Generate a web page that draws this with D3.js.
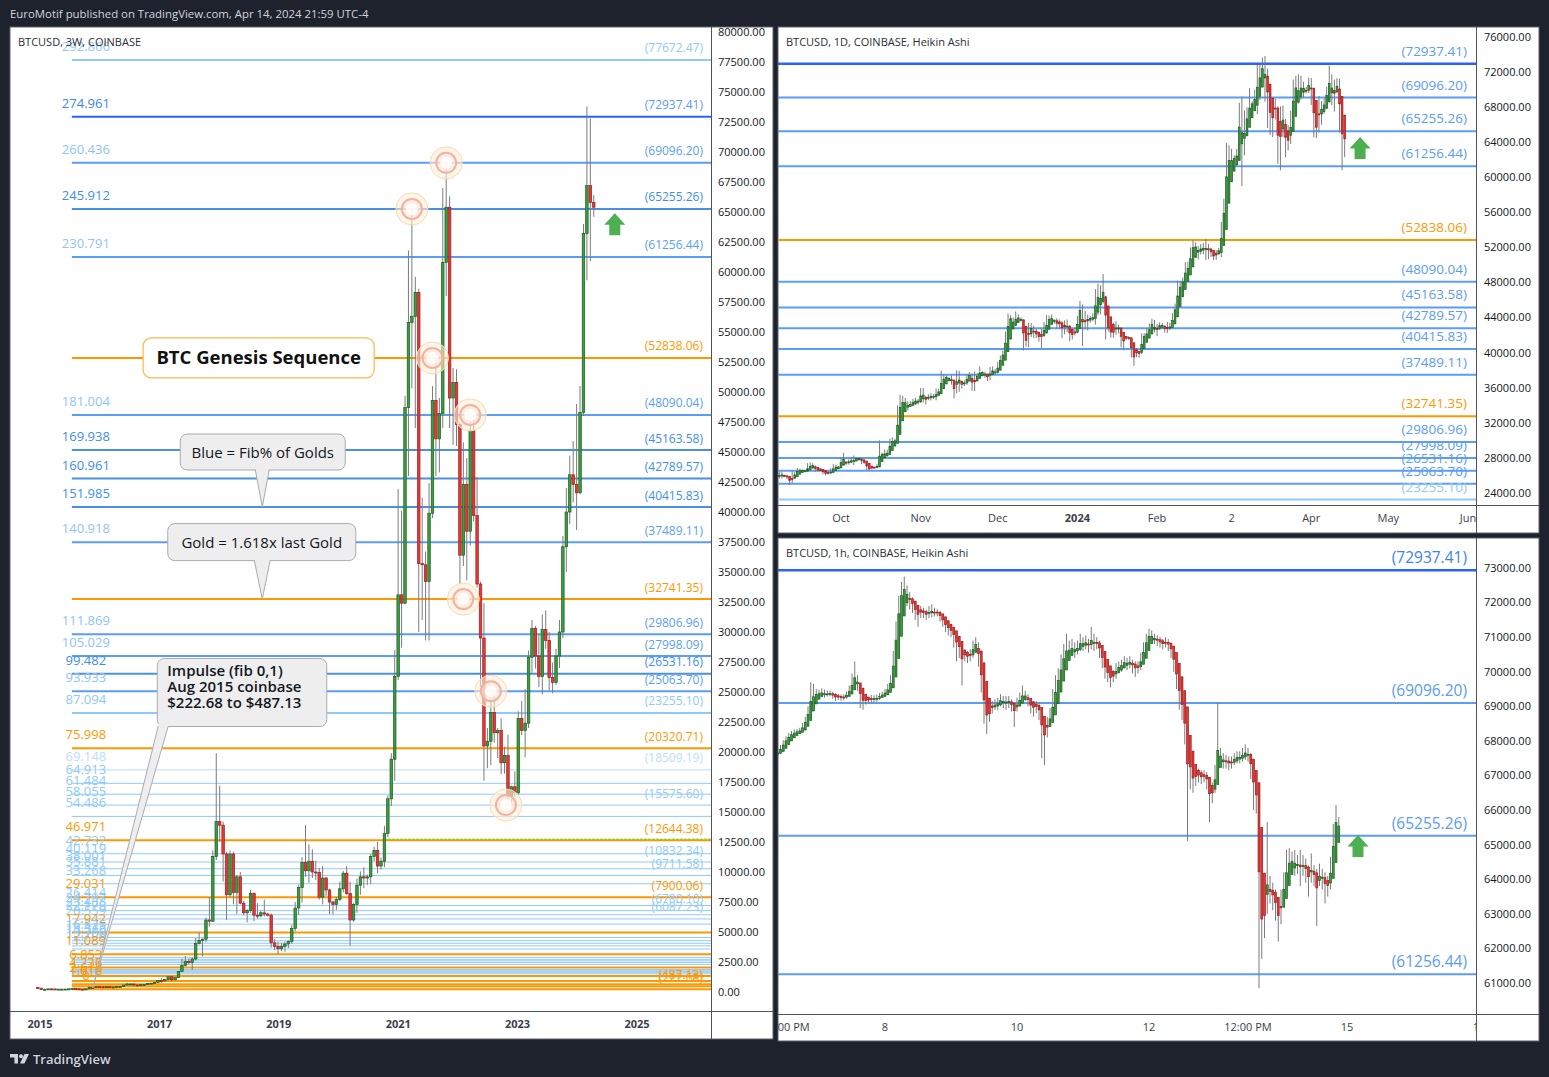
<!DOCTYPE html>
<html><head><meta charset="utf-8">
<script src="https://cdn.jsdelivr.net/npm/d3@7/dist/d3.min.js"></script>
<style>
html,body{margin:0;padding:0;background:#1e222d;}
svg{display:block;font-family:"Open Sans","Noto Sans",sans-serif;}
</style></head><body>
<svg id="chart" width="1549" height="1077"></svg>
<script>
// ================= DATA =================
// --- Left panel: BTCUSD 3W (Coinbase), bars every 21 days from this start date
const w3FirstDate = "2014-12-08";
const w3FirstOpen = 375;
const w3Close = [320,210,230,260,255,235,240,240,245,260,290,265,240,235,265,380,360,440,430,380,440,415,420,450,455,580,665,665,590,575,610,615,700,740,790,970,920,1030,1270,1020,1200,1720,2200,2550,2450,2750,4050,4300,4400,6000,5900,
11300,14200,13900,11500,8100,11500,8300,9600,7400,6600,6800,8200,6400,6350,6600,6500,6400,4100,3800,3600,3800,4000,4200,5300,7000,8700,10800,10100,10900,10000,9950,7900,9500,8500,7500,7300,7700,8600,9900,8200,6000,7300,8900,9600,9500,9600,11300,11800,10500,10900,13200,16100,19400,26300,33100,32400,48700,55800,56300,58300,35700,35600,34200,39900,49300,46100,48200,60800,65400,49500,50800,47300,36400,42300,38400,46800,39700,34000,29500,20500,20900,23300,21600,21800,19100,19700,16300,17100,16600,22800,21800,22400,27900,30300,28000,26300,30200,29300,26200,25800,28000,30000,37100,40000,43100,42300,41600,48300,63200,67200,65800,65400];
const w3High = [375,330,265,300,300,260,245,245,255,270,315,300,265,245,270,500,390,470,470,460,445,440,425,460,465,580,775,690,680,600,615,620,715,750,795,980,1150,1040,1290,1340,1230,1740,2790,3000,2800,2900,4490,4980,4450,6200,7900,
11800,19900,17200,14200,11700,11800,11700,9750,9990,7600,6900,8500,8300,7400,6800,7700,6600,6550,4400,4200,4100,4200,4300,5600,7500,8950,11250,13900,12300,11900,10950,10350,10500,9600,8600,7600,7900,9200,10100,10500,9200,7400,9450,10050,10400,9800,11500,12100,12500,11200,13850,16400,19900,28500,41900,40100,49700,61800,65400,59600,58600,41200,36700,42400,50500,52900,49500,67000,69100,66300,52000,51900,47500,45800,44500,48200,47700,42900,34200,32400,22000,24650,25200,22000,22800,20450,21450,17200,18400,23400,24250,25250,28450,31000,30500,29800,31450,31800,30000,27450,28600,31000,38000,42000,44700,45900,49000,50500,64000,73800,72800,66400];
const w3Low = [300,170,200,215,245,225,215,230,220,240,255,255,200,225,235,260,310,350,410,360,365,400,410,415,440,435,565,600,480,560,570,595,610,680,725,770,750,880,980,890,1000,1180,1700,2150,2300,1830,2630,3950,2980,4150,5450,
5850,11000,12500,9200,6000,7900,7300,6500,7300,6400,5800,6600,5900,6100,6200,6300,6300,3700,3500,3150,3400,3350,3650,4000,5050,6400,7450,9600,9100,9500,9350,7700,7300,8000,6500,6450,6850,7600,8300,8100,3850,5850,6600,8100,8650,8900,9000,10900,9900,10200,10400,12900,15500,17600,26000,28700,32300,43000,50300,47000,30000,31000,29300,29300,39500,43000,43300,47000,58000,47000,45600,45500,34000,35500,34300,37200,39200,33700,25400,17600,18650,18900,20800,19500,18150,18200,15600,15480,16260,16450,21400,19550,22000,26600,26950,25400,24800,28600,25150,24900,25600,27000,29500,35000,39000,40800,38500,41500,48000,59300,60900,64600];

// --- Top right: BTCUSD 1D (Coinbase), daily bars from this date, drawn as Heikin Ashi
const dailyFirstDate = "2023-09-07";
const dailyFirstOpen = 25750;
const dailyClose = [26250,25900,25900,25840,25160,25840,26230,26530,26610,26570,26530,26760,27210,27130,26570,26580,26580,26250,26300,26220,26370,27020,26910,26970,
27990,27500,27430,27780,27410,27940,27960,27950,27590,27390,26880,26760,26860,26860,27160,28520,28410,28330,28720,29680,29920,29990,33070,33920,34500,34160,33910,34080,34530,34500,34650,
35420,34940,34730,35080,35050,35040,35420,35650,36700,37320,37140,37070,36500,35540,37880,36170,36600,36580,37390,37480,35800,37430,37310,37740,37790,37460,37240,37820,37850,37720,
38690,39460,39970,41990,44080,43770,43290,44170,43720,43790,41250,41480,42880,43020,41940,42260,41370,42650,42270,43650,43870,43990,43740,43020,43600,42520,43440,42580,42070,42140,42280,
44180,44950,42830,44180,44180,43960,43950,46970,46120,46650,46370,42800,42850,41740,42500,43140,42740,41280,41620,41690,41580,39520,39870,40080,39920,41810,42110,42030,43300,42940,42580,
43080,43190,43000,42580,42660,43090,44340,45290,47130,47770,48300,49950,49730,51820,51940,52130,51640,52130,51780,52280,51850,51310,50730,51570,51730,54490,57080,62500,61170,
62430,62030,63130,68330,63800,66100,66930,68300,68500,68970,72100,71470,73080,71400,69480,65300,68390,67610,61950,67850,65500,63800,64090,67220,70000,69900,69470,70780,69880,69650,71300,
69700,65490,65960,68490,67830,68900,69360,71600,69140,70590,70060,67150,63950,65450];
const dailyHigh = [26420,26430,25950,25980,25890,26540,26390,26860,26790,26670,26630,27410,27490,27390,27160,26740,26630,26720,26410,26390,26830,27300,27230,27090,
28050,28580,27670,27830,28130,28280,28000,28100,27990,27730,27480,26820,27100,26960,27290,30000,28600,28970,28920,30210,30350,30200,33980,35200,35100,34820,34470,34480,34750,34860,34730,
35970,35980,34940,35270,35390,35280,35920,35900,37970,37530,37410,37240,37430,36760,37990,37940,36840,36850,37550,37800,37640,37880,37650,38430,37880,37830,37600,38380,38430,38160,
38970,39690,40230,42420,44480,44290,44050,44700,44370,44040,43790,42100,43420,43400,43090,42730,42430,42760,43490,44280,44240,44370,43800,43940,43790,43620,43680,43790,43130,42600,42890,
44200,45900,45500,44770,44340,44200,44480,47250,47890,47690,48970,46500,43250,43080,43400,43580,43200,42870,42200,41880,41860,41710,40160,40540,40140,42200,42200,42830,43320,43870,43740,
43260,43480,43380,43120,43500,43420,44500,45600,48200,48170,48580,50330,50370,52000,52820,52580,52180,52380,52490,52980,52400,51980,51540,51700,51950,54900,57550,63910,63660,
63250,62480,63230,68500,69200,67640,67990,70170,68670,70000,72800,72940,73650,73830,72400,70010,68900,68950,68100,68100,68180,66660,65970,67600,71150,71560,71740,71580,70900,70320,71370,
71330,69700,66900,69270,68700,69000,70300,72740,71750,71150,71300,71230,67950,65850];
const dailyLow = [25640,25650,25800,25600,24900,25140,25770,26130,26230,26470,26400,26400,26680,26890,26390,26520,26510,26140,25990,26100,26150,26330,26670,26890,
26950,27320,27170,27230,27370,27170,27860,27700,27280,27300,26580,26550,26700,26820,26820,27130,28100,28160,28170,28630,29490,29690,29890,32850,33700,33720,33410,33880,33950,34050,34080,
34280,34330,34100,34580,34540,34730,34560,35200,35560,36370,36780,36740,36360,34780,35380,35550,35910,36200,36340,36860,35650,35630,36880,37260,37600,37160,36740,36880,37600,37510,
37620,38650,39270,39970,41420,43350,42850,43080,43580,43580,40250,40700,40620,41790,41690,41680,41260,40540,41800,42210,43420,43300,43310,42770,42750,41650,42100,42330,41310,41520,41970,
42200,44220,40750,42640,42530,43400,43570,43200,44300,44380,45600,41500,42440,41720,41710,42050,42200,40600,40270,41430,41440,39460,38500,39490,39450,39830,41360,41640,41800,42690,42290,
41880,42580,42880,42270,42250,42570,42800,44330,45240,46800,47620,47710,48300,49270,51330,51570,50630,51180,51230,50550,50650,50900,50540,50580,51280,50900,54450,56700,60400,
60800,61650,61340,62920,59000,62500,65620,66160,68040,67990,67200,68830,71330,68620,65630,64800,64560,66600,61550,60800,64550,62310,63060,63800,66390,69300,68400,68870,69050,69560,69630,
68250,64550,64500,65110,66010,67250,68730,69100,68220,67500,69580,65100,60800,62300];

// --- Bottom right: BTCUSD 1h (Coinbase), hours counted from Apr 8 2024 00:00 (UTC-4), drawn as Heikin Ashi
const hourlyFirstHour = -39;
const hourlyFirstOpen = 67600;
const hourlyClose = [67690,67800,67950,68050,68150,68200,68250,68280,68300,68450,
68600,68900,69100,69300,69380,69350,69400,69330,69380,69360,
69300,69250,69280,69230,69270,69350,69450,69600,69850,69600,
69300,69150,69200,69180,69250,69200,69260,69300,69350,69400,
69500,69800,70500,71300,72000,72300,72350,72200,72100,71950,
71750,71700,71750,71700,71650,71750,71700,71750,71700,71600,
71450,71350,71250,71200,71100,70900,70650,70500,70500,70450,
70500,70750,70800,70300,69600,69000,68700,68900,69000,69050,
69100,69200,69100,69200,69100,69050,68950,69100,69200,69300,
69300,69150,69000,69050,69000,68900,68500,68300,68500,68700,
69100,69600,69800,70200,70400,70600,70600,70700,70600,70700,
70850,70800,70850,70750,70900,70800,70850,70600,70300,70100,
69950,69850,69900,70100,70150,70200,70300,70250,70300,70200,
70100,70150,70400,70700,70950,71050,71000,70950,70900,70850,
70800,70850,70800,70600,70200,69800,69300,68900,68300,67600,
67100,66900,67050,67000,66950,67000,66900,66400,66600,67100,
67700,67500,67450,67400,67350,67400,67500,67550,67500,67600,
67650,67600,67200,66800,66200,63500,62500,63200,63500,63700,
63500,63300,62900,63400,63900,64300,64550,64500,64400,64450,
64350,64450,64300,64100,64250,64100,63950,64150,64100,63900,
63800,64500,65400,65700,65450];
const hourlyHigh = [67780,67880,68020,68130,68230,68290,68330,68350,68380,68520,
68700,69000,69700,69650,69500,69480,69520,69480,69460,69450,
69420,69380,69360,69340,69350,69430,69600,69950,70300,69900,
69650,69350,69300,69280,69330,69320,69340,69380,69420,69500,
69650,69900,70600,71450,72200,72600,72750,72500,72300,72150,
72000,71900,71900,71850,71800,71900,71950,71850,71820,71750,
71650,71500,71450,71350,71300,71150,70950,70750,70650,70600,
70650,70900,71000,70850,70350,69650,69100,69000,69150,69200,
69250,69350,69300,69300,69300,69200,69100,69250,69400,69600,
69450,69350,69200,69150,69150,69100,68950,68600,68700,68950,
69500,69900,70100,70500,70800,71100,70900,70950,70850,70900,
71100,71000,71050,70950,71300,71100,71000,70900,70650,70350,
70150,70000,70050,70250,70300,70350,70450,70400,70450,70350,
70300,70300,70550,70850,71100,71250,71200,71100,71050,71000,
70950,71000,70950,70850,70650,70250,69850,69400,68950,68350,
67700,67200,67250,67200,67150,67150,67100,66950,66800,67300,
69100,67800,67650,67600,67550,67550,67650,67700,67700,67800,
67900,67800,67650,67250,66850,66300,63700,63800,65650,64100,
63900,63700,63400,63700,64200,64850,64900,64800,64850,64700,
64850,64700,64600,64400,64750,64400,64300,64450,64300,64200,
64100,64650,65600,66150,65800];
const hourlyLow = [67520,67620,67750,67880,67990,68080,68120,68170,68200,68240,
68400,68550,68850,69050,69200,69250,69280,69250,69280,69290,
69220,69150,69180,69160,69180,69220,69300,69400,69550,69450,
68950,68900,69050,69080,69100,69120,69130,69180,69240,69280,
69350,69450,69750,70400,71200,71900,72100,71900,71800,71700,
71500,71300,71550,71550,71500,71550,71580,71600,71600,71450,
71300,71150,71050,71000,70700,70300,70400,69600,70300,70250,
70300,70400,70600,70150,69400,68500,68200,68550,68800,68900,
68900,69000,68950,68900,68950,68850,68400,68850,69000,69100,
69150,69000,68800,68700,68800,68600,67500,67300,68100,68400,
68600,69000,69500,69700,70100,70300,70400,70450,70400,70500,
70600,70600,70650,70550,70650,70600,70650,70400,70100,69800,
69700,69550,69700,69800,69950,70000,70100,70050,70100,69950,
69850,69950,70050,70300,70600,70850,70850,70800,70750,70700,
70650,70700,70600,70400,70000,69500,68900,68600,67900,65100,
66600,66500,66700,66800,66750,66800,66600,65650,66200,66500,
67000,67250,67200,67200,67150,67200,67300,67350,67350,67400,
67450,67400,66900,66000,65900,60850,61700,62300,63000,63300,
63100,62800,62200,62700,63300,63700,64100,64200,64100,64150,
63800,64100,63900,63500,63900,63800,62650,63800,63700,63300,
63500,63700,64300,65300,65200];

// --- Horizontal levels (fib multiples of the Aug 2015 impulse 222.68 -> 487.13)
const levelFib = ["292.866","274.961","260.436","245.912","230.791","","181.004","169.938","160.961","151.985","140.918","","111.869","105.029","99.482","93.933","87.094","75.998","69.148","64.913","61.484","58.055","54.486","46.971","42.732","40.119","38.001","35.881","33.268","29.031","26.414","24.797","23.488","22.178","20.559","17.942","16.325","15.325","14.516","13.706","12.706","11.089","","","","","","6.853","","","","","","4.236","2.618","1.618","1","0"];
const levelPrice = [77672.47,72937.41,69096.20,65255.26,61256.44,52838.06,48090.04,45163.58,42789.57,40415.83,37489.11,32741.35,29806.96,27998.09,26531.16,25063.70,23255.10,20320.71,18509.19,17388.9,16482.1,15575.60,14631.5,12644.38,11523.2,10832.34,10272.1,9711.58,9020.4,7900.06,7207.9,6780.10,6434.1,6087.23,5659.5,4967.5,4539.8,4275.3,4061.4,3847.2,3582.7,3155.2,2891.0,2727.3,2595.3,2463.0,2299.4,2034.9,1871.5,1770.5,1689.0,1607.3,1506.3,1342.9,915.0,650.6,487.13,222.68];
// tone: G gold, D dark blue, M blue, M2 mid blue, L light blue, P pale blue
const levelTone = ["L","D","M2","M","M2","G","M2","M","M","M","M2","G","M2","M2","M","M2","L","G","P","L","L","L","L","G","L","L","L","L","L","G","L","L","L","L","L","G","L","L","L","L","L","G","L","L","L","L","L","G","L","L","L","L","L","G","G","G","G","G"];
const levelRightShown = [1,1,1,1,1,1,1,1,1,1,1,1,1,1,1,1,1,1,1,0,0,1,0,1,0,1,0,1,0,1,0,1,0,1,0,0,0,0,0,0,0,0,0,0,0,0,0,0,0,0,0,0,0,0,0,0,1,1];
const fibAnchorDate = "2015-07-15";

// --- Tick labels
const leftYearTicks = ["2015","2017","2019","2021","2023","2025"];
const dailyTickDates = ["2023-10-01","2023-11-01","2023-12-01","2024-01-01","2024-02-01","2024-03-01","2024-04-01","2024-05-01","2024-06-01"];
const dailyTickLabels = ["Oct","Nov","Dec","2024","Feb","2","Apr","May","Jun"];
const hourlyTickHours = [-36,0,48,96,132,168,216];
const hourlyTickLabels = ["12:00 PM","8","10","12","12:00 PM","15","17"];

// --- Annotations
const ringBars = [109,119,115,126,124,132,136.4];
const ringPrices = [65255.26,69096.20,52838.06,48090.04,32741.35,25063.70,15575.60];
const dottedStartBar = 101, dottedPrice = 12644.38;
const arrowLeft = {date:"2024-08-18", price:64900};
const arrowTR = {date:"2024-04-20", price:64600};
const arrowBR = {hour:172, price:65280};
const genesisNote = {text:"BTC Genesis Sequence", date:"2018-08-31", price:52838.06};
const pointerNotes = [
  {lines:["Blue = Fib% of Golds"], date:"2018-09-22", price:40415.83},
  {lines:["Gold = 1.618x last Gold"], date:"2018-09-22", price:32741.35},
  {lines:["Impulse (fib 0,1)","Aug 2015 coinbase","$222.68 to $487.13"], date:"2015-11-20", price:333}
];

// ================= RENDER =================
const DAY = 864e5;
const parse = d3.utcParse("%Y-%m-%d");
const svg = d3.select("#chart");
const defs = svg.append("defs");
function clip(id,x,y,w,h){defs.append("clipPath").attr("id",id).append("rect").attr("x",x).attr("y",y).attr("width",w).attr("height",h);}

svg.append("rect").attr("width",1549).attr("height",1077).attr("fill","#1e222d");

const textDark = "#131722";
const pal = {up:"#3d9b41", upB:"#1b5e20", down:"#e53935", downB:"#9f1c1c", wick:"#7b7b7e"};
const toneLine = {G:"#ff9800", D:"#2962ff", M:"#4a90e2", M2:"#5b9cf6", L:"#90caf9", P:"#bbdefb"};
const toneLeft = {G:"#ff9800", D:"#3c86f0", M:"#3d8ef0", M2:"#90c4f6", L:"#90caf9", P:"#bbdefb"};
const toneRight = {G:"#ff9800", D:"#5b9cf6", M:"#3d8ef0", M2:"#5ba0f0", L:"#90caf9", P:"#bbdefb"};

function drawCandles(g, data, x, y, bw){
  const gg = g.append("g");
  gg.selectAll("line").data(data).join("line")
    .attr("x1",d=>x(d.t)).attr("x2",d=>x(d.t))
    .attr("y1",d=>y(d.h)).attr("y2",d=>y(d.l))
    .attr("stroke",pal.wick).attr("stroke-width",1);
  gg.selectAll("rect").data(data).join("rect")
    .attr("x",d=>x(d.t)-bw/2).attr("width",bw)
    .attr("y",d=>Math.min(y(d.o),y(d.c)))
    .attr("height",d=>Math.max(1,Math.abs(y(d.o)-y(d.c))))
    .attr("fill",d=>d.c>=d.o?pal.up:pal.down)
    .attr("stroke",d=>d.c>=d.o?pal.upB:pal.downB).attr("stroke-width",0.7);
}
function heikinAshi(close, high, low, firstOpen, timeOf){
  const out=[]; let pO=0, pC=0;
  close.forEach((c,i)=>{
    const o = i ? close[i-1] : firstOpen;
    const hc = (o+high[i]+low[i]+c)/4;
    const ho = i ? (pO+pC)/2 : (o+c)/2;
    out.push({t:timeOf(i), o:ho, c:hc, h:Math.max(high[i],ho,hc), l:Math.min(low[i],ho,hc)});
    pO=ho; pC=hc;
  });
  return out;
}
function arrowUp(g, x, y, color){
  g.append("path").attr("d",`M${x},${y} L${x+10.5},${y+11.5} L${x+5.5},${y+11.5} L${x+5.5},${y+22} L${x-5.5},${y+22} L${x-5.5},${y+11.5} L${x-10.5},${y+11.5} Z`).attr("fill",color);
}
function panelFrame(x0,y0,x1,y1,pr,pb){
  svg.append("rect").attr("x",x0).attr("y",y0).attr("width",x1-x0).attr("height",y1-y0).attr("fill","#ffffff").attr("stroke","#5d606b").attr("stroke-width",1);
  svg.append("line").attr("x1",pr+0.5).attr("x2",pr+0.5).attr("y1",y0).attr("y2",y1).attr("stroke","#50535e");
  svg.append("line").attr("x1",x0).attr("x2",x1).attr("y1",pb+0.5).attr("y2",pb+0.5).attr("stroke","#50535e");
}

// ---------- header / footer ----------
svg.append("text").attr("x",10).attr("y",18).attr("fill","#d1d4dc").attr("font-size",11.4)
  .text("EuroMotif published on TradingView.com, Apr 14, 2024 21:59 UTC-4");
const logo = svg.append("g").attr("fill","#d1d4dc");
logo.append("path").attr("d","M10,1054 h8 v9.5 h-3.6 v-6 h-4.4 Z");
logo.append("circle").attr("cx",21).attr("cy",1056.2).attr("r",2);
logo.append("path").attr("d","M24.5,1054 h4.5 l-4.6,9.5 h-4.4 Z");
svg.append("text").attr("x",33).attr("y",1064).attr("fill","#d1d4dc").attr("font-size",13).attr("font-weight",600).text("TradingView");

// ================= LEFT PANEL =================
const L = {x0:10,y0:27,x1:773,y1:1039,pr:711,pb:1011};
panelFrame(L.x0,L.y0,L.x1,L.y1,L.pr,L.pb);
clip("clipL",L.x0,L.y0,L.pr-L.x0,L.pb-L.y0);
const xL = d3.scaleUtc().domain([parse("2015-01-01"),parse("2025-01-01")]).range([40,637]);
const yL = d3.scaleLinear().domain([0,80000]).range([992,32]);
const w3Start = parse(w3FirstDate);
const barDate = i => new Date(+w3Start + (i*21+10.5)*DAY);
const w3 = w3Close.map((c,i)=>({t:barDate(i), o:i?w3Close[i-1]:w3FirstOpen, h:w3High[i], l:w3Low[i], c}));
const levels = levelPrice.map((p,i)=>({p, fib:levelFib[i], tone:levelTone[i], right:levelRightShown[i]}));

const gL = svg.append("g").attr("clip-path","url(#clipL)");
const lineX0 = xL(parse(fibAnchorDate));
const lw = d => (d.tone==="G" || d.p>=20000) ? 2 : 1;
gL.append("g").selectAll("line").data(levels).join("line")
  .attr("x1",lineX0).attr("x2",L.pr).attr("y1",d=>yL(d.p)).attr("y2",d=>yL(d.p))
  .attr("stroke",d=>toneLine[d.tone]).attr("stroke-width",lw);
// green dotted
gL.append("line").attr("x1",xL(barDate(dottedStartBar))).attr("x2",L.pr)
  .attr("y1",yL(dottedPrice)-1).attr("y2",yL(dottedPrice)-1)
  .attr("stroke","#64dd17").attr("stroke-width",1.3).attr("stroke-dasharray","2,2");

drawCandles(gL, w3, xL, yL, 2.5);

// rings
const rings = ringBars.map((b,i)=>({x:xL(barDate(b)), y:yL(ringPrices[i])}));
const rg = gL.append("g");
rg.selectAll("circle.o").data(rings).join("circle").attr("class","o").attr("cx",d=>d.x).attr("cy",d=>d.y).attr("r",16)
  .attr("fill","#fff0dd").attr("fill-opacity",0.6).attr("stroke","#fdd9a6").attr("stroke-width",1);
rg.selectAll("circle.m").data(rings).join("circle").attr("class","m").attr("cx",d=>d.x).attr("cy",d=>d.y).attr("r",10)
  .attr("fill","#fce6e0").attr("fill-opacity",0.55).attr("stroke","#f2b39c").attr("stroke-width",2);
rg.selectAll("circle.i").data(rings).join("circle").attr("class","i").attr("cx",d=>d.x).attr("cy",d=>d.y).attr("r",6)
  .attr("fill","#ffffff").attr("fill-opacity",0.8);

// left labels
gL.append("g").selectAll("text").data(levels.filter(d=>d.fib!=="")).join("text")
  .attr("x",lineX0+14).attr("y",d=>yL(d.p)-9).attr("text-anchor","middle")
  .attr("font-size",13).attr("fill",d=>toneLeft[d.tone]).text(d=>d.fib);
// right labels
gL.append("g").selectAll("text").data(levels.filter(d=>d.right)).join("text")
  .attr("x",L.pr-8).attr("y",d=>yL(d.p)-7.5).attr("text-anchor","end")
  .attr("font-size",12).attr("fill",d=>toneRight[d.tone]).text(d=>"("+d.p.toFixed(2)+")");

// Genesis box
{
  const cx = xL(parse(genesisNote.date)), cy = yL(genesisNote.price);
  const w=231,h=40;
  gL.append("rect").attr("x",cx-w/2).attr("y",cy-h/2).attr("width",w).attr("height",h).attr("rx",8)
    .attr("fill","#ffffff").attr("stroke","#ffb74d").attr("stroke-width",1.2);
  gL.append("text").attr("x",cx).attr("y",cy+6.5).attr("text-anchor","middle").attr("font-size",18.5)
    .attr("font-weight",700).attr("fill","#111").text(genesisNote.text);
}
// pointer callouts
function pointerBox(note, bx, by, w, h, baseL, baseR, fs, weight, anchor){
  const tx = xL(parse(note.date)), ty = yL(note.price);
  const g = gL.append("g");
  const fill="#eeeeee", stroke="#a9abb2";
  g.append("rect").attr("x",bx).attr("y",by).attr("width",w).attr("height",h).attr("rx",7)
    .attr("fill",fill).attr("stroke",stroke).attr("stroke-width",1);
  g.append("path").attr("d",`M${baseL},${by+h-0.5} L${tx},${ty} L${baseR},${by+h-0.5}`)
    .attr("fill",fill).attr("stroke",stroke).attr("stroke-width",1);
  g.append("rect").attr("x",baseL+0.8).attr("y",by+h-3).attr("width",baseR-baseL-1.6).attr("height",3).attr("fill",fill);
  note.lines.forEach((s,i)=>{
    g.append("text").attr("x",anchor==="middle"?bx+w/2:bx+10).attr("y",by+(note.lines.length===1? h/2+5.5 : 17+i*16))
      .attr("text-anchor",anchor).attr("font-size",fs).attr("font-weight",weight).attr("fill","#131722").text(s);
  });
}
{
  const n0 = pointerNotes[0]; const t0x = xL(parse(n0.date)), t0y = yL(n0.price);
  pointerBox(n0, t0x-82, t0y-73, 165, 36, t0x-7, t0x+7, 15, 400, "middle");
  const n1 = pointerNotes[1]; const t1x = xL(parse(n1.date)), t1y = yL(n1.price);
  pointerBox(n1, t1x-94.5, t1y-75.5, 188, 37, t1x-8, t1x+8, 15, 400, "middle");
  const n2 = pointerNotes[2]; const t2x = xL(parse(n2.date)), t2y = yL(n2.price);
  pointerBox(n2, t2x+64.5, t2y-329.5, 169.5, 68, t2x+65.5, t2x+75.5, 15, 600, "start");
}
arrowUp(gL, xL(parse(arrowLeft.date)), yL(arrowLeft.price), "#4caf50");

svg.append("text").attr("x",18).attr("y",46).attr("font-size",11).attr("fill","#2a2e39").text("BTCUSD, 3W, COINBASE");

// left axes
clip("clipLY",L.pr,L.y0,L.x1-L.pr,L.pb-L.y0);
const ly = svg.append("g").attr("clip-path","url(#clipLY)");
ly.selectAll("text").data(d3.range(0,80001,2500)).join("text")
  .attr("x",718).attr("y",d=>yL(d)).attr("dy","0.35em").attr("font-size",11).attr("fill",textDark)
  .text(d=>d.toFixed(2));
svg.append("g").selectAll("text").data(leftYearTicks).join("text")
  .attr("x",d=>xL(parse(d+"-01-01"))).attr("y",1028).attr("text-anchor","middle")
  .attr("font-size",11).attr("font-weight",700).attr("fill","#3a3e49").text(d=>d);

// ================= TOP RIGHT PANEL =================
const T = {x0:778,y0:27,x1:1539,y1:533,pr:1476,pb:505};
panelFrame(T.x0,T.y0,T.x1,T.y1,T.pr,T.pb);
clip("clipT",T.x0,T.y0,T.pr-T.x0,T.pb-T.y0);
const xT = d3.scaleUtc().domain([parse("2023-10-01"),parse("2024-06-01")]).range([841,1468]);
const yT = d3.scaleLinear().domain([24000,76000]).range([493,37]);
const dStart = parse(dailyFirstDate);
const daily = heikinAshi(dailyClose,dailyHigh,dailyLow,dailyFirstOpen,i=>new Date(+dStart+i*DAY));
const gT = svg.append("g").attr("clip-path","url(#clipT)");
const levT = levels.filter(d=>d.p>23000 && d.p<76000);
const trLine = d => d.tone==="G"?"#ff9800":d.tone==="D"?"#2962ff":d.tone==="L"?"#90caf9":"#5b9cf6";
gT.append("g").selectAll("line").data(levT).join("line")
  .attr("x1",T.x0).attr("x2",T.pr).attr("y1",d=>yT(d.p)).attr("y2",d=>yT(d.p))
  .attr("stroke",trLine).attr("stroke-width",d=>d.tone==="D"?2.5:2);
drawCandles(gT, daily, xT, yT, 1.7);
gT.append("g").selectAll("text").data(levT).join("text")
  .attr("x",1467).attr("y",d=>yT(d.p)-8).attr("text-anchor","end").attr("font-size",13.5)
  .attr("fill",d=>d.tone==="G"?"#ff9800":d.tone==="L"?"#90caf9":"#5b9cf6").text(d=>"("+d.p.toFixed(2)+")");
arrowUp(gT, xT(parse(arrowTR.date)), yT(arrowTR.price), "#4caf50");
svg.append("text").attr("x",786).attr("y",46).attr("font-size",11).attr("fill","#2a2e39").text("BTCUSD, 1D, COINBASE, Heikin Ashi");
svg.append("g").selectAll("text").data(d3.range(24000,76001,4000)).join("text")
  .attr("x",1484).attr("y",d=>yT(d)).attr("dy","0.35em").attr("font-size",11).attr("fill",textDark).text(d=>d.toFixed(2));
clip("clipTX",T.x0,T.pb,T.pr-T.x0,T.y1-T.pb);
svg.append("g").attr("clip-path","url(#clipTX)").selectAll("text").data(dailyTickDates).join("text")
  .attr("x",d=>xT(parse(d))).attr("y",522).attr("text-anchor","middle").attr("font-size",11)
  .attr("font-weight",(d,i)=>dailyTickLabels[i]==="2024"?700:400).attr("fill","#3a3e49")
  .text((d,i)=>dailyTickLabels[i]);

// ================= BOTTOM RIGHT PANEL =================
const B = {x0:778,y0:538,x1:1539,y1:1041,pr:1476,pb:1014};
panelFrame(B.x0,B.y0,B.x1,B.y1,B.pr,B.pb);
clip("clipB",B.x0,B.y0,B.pr-B.x0,B.pb-B.y0);
const xB = d3.scaleLinear().domain([0,48]).range([885,1017]);
const yB = d3.scaleLinear().domain([61000,73000]).range([983,568]);
const hourly = heikinAshi(hourlyClose,hourlyHigh,hourlyLow,hourlyFirstOpen,i=>hourlyFirstHour+i);
const gB = svg.append("g").attr("clip-path","url(#clipB)");
const levB = levels.filter(d=>d.p>60500 && d.p<73500);
gB.append("g").selectAll("line").data(levB).join("line")
  .attr("x1",B.x0).attr("x2",B.pr).attr("y1",d=>yB(d.p)).attr("y2",d=>yB(d.p))
  .attr("stroke",d=>d.tone==="D"?"#2962ff":"#5b9cf6").attr("stroke-width",d=>d.tone==="D"?2.5:2);
drawCandles(gB, hourly, xB, yB, 1.9);
gB.append("g").selectAll("text").data(levB).join("text")
  .attr("x",1467).attr("y",d=>yB(d.p)-7).attr("text-anchor","end").attr("font-size",15.5)
  .attr("fill",d=>d.tone==="D"?"#3d82f0":"#5b9cf6").text(d=>"("+d.p.toFixed(2)+")");
arrowUp(gB, xB(arrowBR.hour), yB(arrowBR.price), "#4caf50");
svg.append("text").attr("x",786).attr("y",557).attr("font-size",11).attr("fill","#2a2e39").text("BTCUSD, 1h, COINBASE, Heikin Ashi");
svg.append("g").selectAll("text").data(d3.range(61000,73001,1000)).join("text")
  .attr("x",1484).attr("y",d=>yB(d)).attr("dy","0.35em").attr("font-size",11).attr("fill",textDark).text(d=>d.toFixed(2));
clip("clipBX",B.x0,B.pb,B.pr-B.x0,B.y1-B.pb);
svg.append("g").attr("clip-path","url(#clipBX)").selectAll("text").data(hourlyTickHours).join("text")
  .attr("x",d=>xB(d)).attr("y",1031).attr("text-anchor","middle").attr("font-size",11)
  .attr("fill","#3a3e49").text((d,i)=>hourlyTickLabels[i]);
</script></body></html>
